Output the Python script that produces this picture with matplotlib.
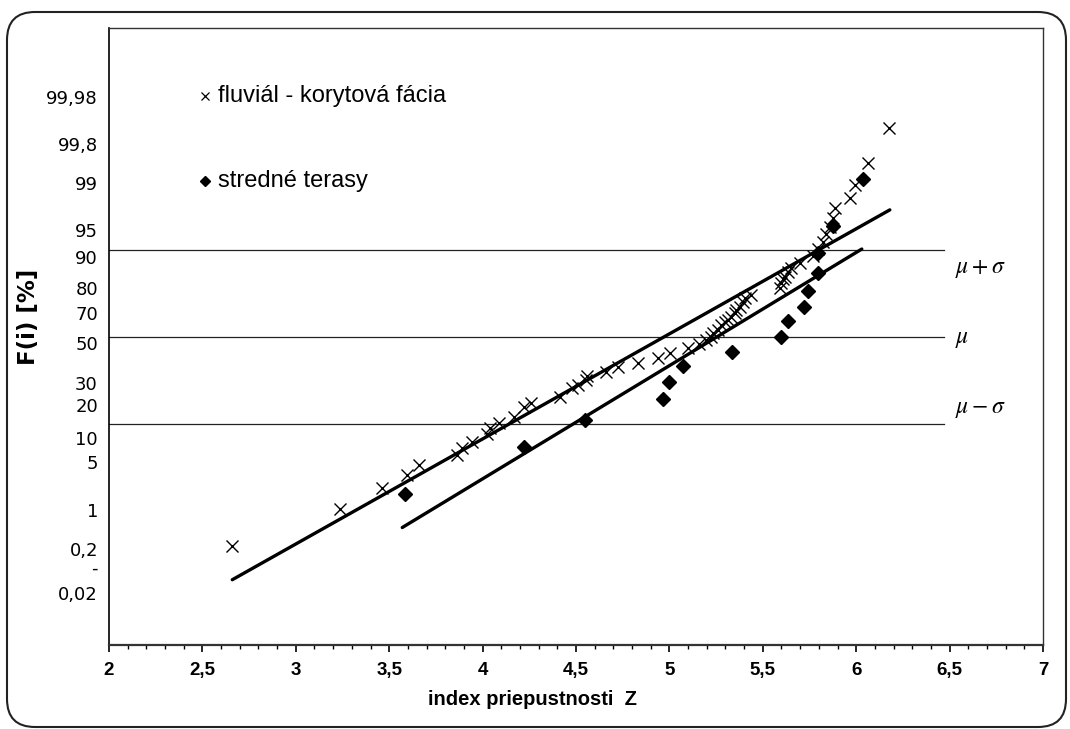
import matplotlib
matplotlib.use("Agg")
import matplotlib.pyplot as plt
from matplotlib.patches import FancyBboxPatch
from matplotlib.transforms import IdentityTransform

plt.rcParams['mathtext.fontset'] = 'stix'

# fluviál - korytová fácia: index Z vs. probit of F(i)
fluv_x = [2.656, 3.238, 3.462, 3.596, 3.660, 3.862, 3.889, 3.942, 4.022, 4.040,
          4.086, 4.166, 4.220, 4.257, 4.417, 4.476, 4.513, 4.556, 4.560, 4.663,
          4.727, 4.834, 4.941, 5.004, 5.100, 5.160, 5.196, 5.223, 5.234, 5.260,
          5.276, 5.298, 5.314, 5.330, 5.351, 5.356, 5.378, 5.394, 5.404, 5.436,
          5.591, 5.597, 5.610, 5.618, 5.634, 5.650, 5.698, 5.767, 5.794, 5.821,
          5.837, 5.858, 5.874, 5.885, 5.965, 5.991, 6.061, 6.178]
fluv_y = [-2.40, -1.98, -1.74, -1.59, -1.47, -1.36, -1.28, -1.21, -1.12, -1.05,
          -0.99, -0.92, -0.80, -0.76, -0.69, -0.59, -0.55, -0.49, -0.45, -0.40,
          -0.34, -0.30, -0.24, -0.18, -0.13, -0.08, -0.03, 0.00, 0.05, 0.08,
          0.14, 0.17, 0.20, 0.23, 0.28, 0.31, 0.34, 0.40, 0.45, 0.48,
          0.56, 0.62, 0.66, 0.69, 0.75, 0.79, 0.85, 0.93, 1.01, 1.09,
          1.18, 1.26, 1.37, 1.48, 1.60, 1.75, 2.00, 2.40]

# stredné terasy
ter_x = [3.585, 4.220, 4.550, 4.967, 4.999, 5.074, 5.335, 5.597, 5.634, 5.719,
         5.741, 5.794, 5.794, 5.874, 6.034]
ter_y = [-1.80, -1.26, -0.95, -0.71, -0.52, -0.33, -0.17, 0.00, 0.18, 0.34,
         0.53, 0.74, 0.97, 1.28, 1.82]

# regression lines
fluv_fit_x = [2.66, 6.18]
fluv_fit_y = [-2.79, 1.46]
ter_fit_x = [3.57, 6.03]
ter_fit_y = [-2.19, 1.01]

# mu / sigma levels
ref_levels = [1, 0, -1]
ref_labels = [r'$\mu+\sigma$', r'$\mu$', r'$\mu-\sigma$']
ref_label_y = [0.79, -0.01, -0.82]

# F(i) [%] labels on the probability axis
ytick_pos = [2.76, 2.22, 1.77, 1.23, 0.92, 0.56, 0.28, -0.07, -0.53, -0.78,
             -1.16, -1.44, -1.99, -2.44, -2.64, -2.94]
ytick_lab = ['99,98', '99,8', '99', '95', '90', '80', '70', '50', '30', '20',
             '10', '5', '1', '0,2', '-', '0,02']

xticks = [2, 2.5, 3, 3.5, 4, 4.5, 5, 5.5, 6, 6.5, 7]
xtick_lab = ['2', '2,5', '3', '3,5', '4', '4,5', '5', '5,5', '6', '6,5', '7']

fig = plt.figure(figsize=(10.7, 7.29), dpi=100)
ax = fig.add_axes([109 / 1070, 1 - 645 / 729, 934 / 1070, 617 / 729])

# outer rounded frame
frame = FancyBboxPatch((7, 2), 1059, 715, boxstyle='round,pad=0,rounding_size=28',
                       transform=IdentityTransform(), fill=False,
                       edgecolor='#222222', linewidth=1.5)
fig.patches.append(frame)

for lvl in ref_levels:
    ax.plot([2, 6.47], [lvl, lvl], color='#222222', linewidth=0.9)
for lab, yy in zip(ref_labels, ref_label_y):
    ax.text(6.53, yy, lab, fontsize=17, va='center', ha='left')

ax.plot(fluv_fit_x, fluv_fit_y, color='black', linewidth=2.4, solid_capstyle='round')
ax.plot(ter_fit_x, ter_fit_y, color='black', linewidth=2.4, solid_capstyle='round')

ax.plot(fluv_x, fluv_y, linestyle='none', marker='x', markersize=8,
        markeredgewidth=1.0, color='black')
ax.plot(ter_x, ter_y, linestyle='none', marker='D', markersize=7.2, color='black')

# legend drawn as text
ax.plot([0.103], [0.89], transform=ax.transAxes, marker='x', markersize=6,
        markeredgewidth=0.9, color='black')
ax.text(0.117, 0.89, 'fluviál - korytová fácia', transform=ax.transAxes,
        fontsize=17, family='Liberation Sans', va='center')
ax.plot([0.103], [0.752], transform=ax.transAxes, marker='D', markersize=5.5,
        color='black')
ax.text(0.117, 0.752, 'stredné terasy', transform=ax.transAxes,
        fontsize=17, family='Liberation Sans', va='center')

ax.set_xlim(2, 7)
ax.set_ylim(-3.54, 3.55)
ax.set_xticks(xticks)
ax.set_xticklabels(xtick_lab, fontsize=13.5, fontweight='bold', family='Liberation Sans')
ax.set_xticks([2 + 0.1 * i for i in range(51)], minor=True)
ax.tick_params(axis='x', which='major', length=5, width=1.2, direction='out', pad=7)
ax.tick_params(axis='x', which='minor', length=3, width=1.0, direction='out')

ax.set_yticks(ytick_pos)
ax.set_yticklabels(ytick_lab, fontsize=13)
ax.tick_params(axis='y', length=0, pad=8)

for s in ['top', 'right']:
    ax.spines[s].set_linewidth(1.0)
    ax.spines[s].set_color('#333333')
ax.spines['left'].set_linewidth(1.2)
ax.spines['bottom'].set_linewidth(1.6)
ax.spines['bottom'].set_color('#333333')

ax.set_xlabel('index priepustnosti  Z', fontsize=14.5, fontweight='bold',
              family='Liberation Sans')
ax.xaxis.set_label_coords((532 - 109) / 934, -(690 - 645) / 617)
ax.set_ylabel('F(i) [%]', fontsize=16.5, fontweight='bold')
ax.yaxis.set_label_coords((40 - 109) / 934, (645 - 317) / 617)

fig.savefig('out.png', dpi=100)
